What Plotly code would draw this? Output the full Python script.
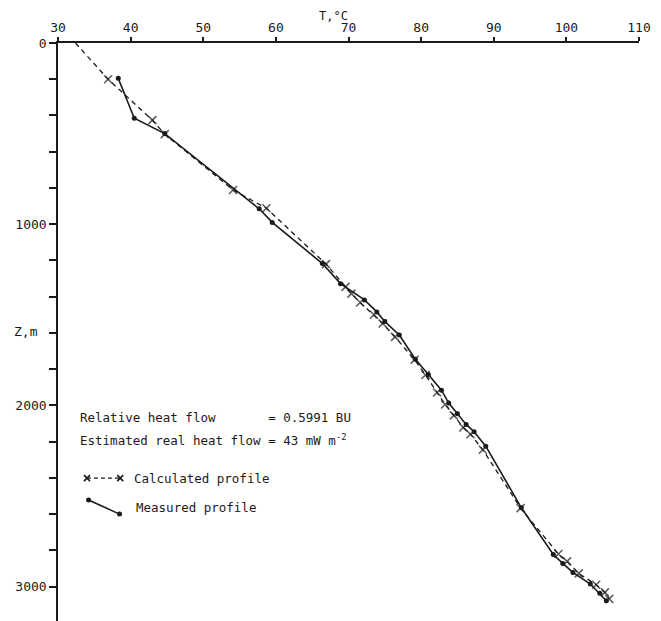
import plotly.graph_objects as go

# ---- data ----
meas_T = [38.3, 40.5, 44.7, 57.7, 59.5, 66.4, 68.9, 72.2, 73.9, 75.0, 77.0, 79.2, 81.0,
          82.8, 83.8, 85.0, 86.2, 87.3, 88.9, 93.8, 98.2, 99.5, 100.9, 103.3, 104.6, 105.5]
meas_Z = [195, 415, 500, 915, 990, 1217, 1328, 1418, 1484, 1537, 1612, 1745, 1830,
          1916, 1987, 2046, 2105, 2146, 2225, 2565, 2823, 2872, 2922, 2986, 3037, 3078]

calc_T = [32.4, 36.9, 43.0, 44.7, 54.1, 58.7, 66.9, 69.6, 70.4, 71.6, 73.5, 74.7, 76.4,
          79.1, 80.6, 82.2, 83.3, 84.5, 85.8, 86.8, 88.5, 93.7, 98.9, 100.1, 101.7, 104.1,
          105.3, 105.9]
calc_Z = [0, 200, 426, 503, 811, 912, 1220, 1346, 1383, 1432, 1500, 1548, 1622,
          1748, 1832, 1929, 1995, 2055, 2122, 2159, 2245, 2567, 2820, 2861, 2927, 2990,
          3032, 3068]

x_ticks = [30, 40, 50, 60, 70, 80, 90, 100, 110]
y_ticks = [0, 1000, 2000, 3000]

FONT = "DejaVu Sans Mono"
INK = "#1a1a1a"

fig = go.Figure()

# calculated profile (dashed with x markers; no marker at surface start)
fig.add_trace(go.Scatter(
    x=calc_T, y=calc_Z, mode="lines+markers",
    line=dict(color=INK, width=1.3, dash="5px,4px"),
    marker=dict(symbol="x-thin-open", size=[0] + [8] * (len(calc_T) - 1),
                line=dict(color=INK, width=1.6), color=INK),
    showlegend=False))

# measured profile (solid with dots)
fig.add_trace(go.Scatter(
    x=meas_T, y=meas_Z, mode="lines+markers",
    line=dict(color=INK, width=1.6),
    marker=dict(symbol="circle", size=5, color=INK),
    showlegend=False))

# legend keys (decoration)
fig.add_trace(go.Scatter(
    x=[33.99, 38.57], y=[2401, 2401], mode="lines+markers",
    line=dict(color=INK, width=1.3, dash="4px,3px"),
    marker=dict(symbol="x-thin-open", size=6, line=dict(color=INK, width=1.6)),
    showlegend=False, hoverinfo="skip"))
fig.add_trace(go.Scatter(
    x=[34.21, 38.47], y=[2522, 2600], mode="lines+markers",
    line=dict(color=INK, width=1.6),
    marker=dict(symbol="circle", size=5, color=INK),
    showlegend=False, hoverinfo="skip"))

NB = "\u00a0"
texts = [
    (32.8, 2064, "Relative heat flow" + NB * 7 + "= 0.5991 BU"),
    (32.8, 2192, "Estimated real heat flow = 43 mW m<sup>-2</sup>"),
    (40.2, 2401, "Calculated profile"),
    (40.5, 2566, "Measured profile"),
]
for tx, tz, s in texts:
    fig.add_annotation(x=tx, y=tz, xref="x", yref="y", text=s.replace(" ", NB),
                       showarrow=False, xanchor="left", yanchor="middle",
                       font=dict(family=FONT, size=12.5, color=INK))

# axis titles
fig.add_annotation(x=68.0, y=1.0, xref="x", yref="paper", yshift=35,
                   text="T,°C", showarrow=False, xanchor="center", yanchor="top",
                   borderpad=0, font=dict(family=FONT, size=12, color=INK))
fig.add_annotation(x=0, y=1590, xref="paper", yref="y", xshift=-32,
                   text="Z,m", showarrow=False, xanchor="center", yanchor="middle",
                   font=dict(family=FONT, size=13, color=INK))

# page has an 8px body margin; margins compensate so the plot sits where the reference has it
fig.update_layout(
    width=661, height=621,
    margin=dict(l=49.7, r=29.7, t=34.7, b=0, pad=0, autoexpand=False),
    paper_bgcolor="white", plot_bgcolor="white",
    font=dict(family=FONT, size=13, color=INK),
    xaxis=dict(range=[30, 110], side="top", tickvals=x_ticks,
               ticktext=[str(v) for v in x_ticks],
               showline=True, linecolor=INK, linewidth=1.5,
               ticks="outside", ticklen=4, tickwidth=1.5, tickcolor=INK,
               showgrid=False, zeroline=False,
               tickfont=dict(family=FONT, size=13, color=INK)),
    yaxis=dict(range=[3234, 0], tickvals=y_ticks,
               ticktext=[str(v) for v in y_ticks],
               showline=True, linecolor=INK, linewidth=1.5,
               ticks="outside", ticklen=7, tickwidth=1.5, tickcolor=INK,
               minor=dict(dtick=200, tick0=0, ticks="outside", ticklen=7,
                          tickwidth=1.5, tickcolor=INK, showgrid=False),
               showgrid=False, zeroline=False,
               tickfont=dict(family=FONT, size=13, color=INK)),
)

fig.write_html("out.html")
